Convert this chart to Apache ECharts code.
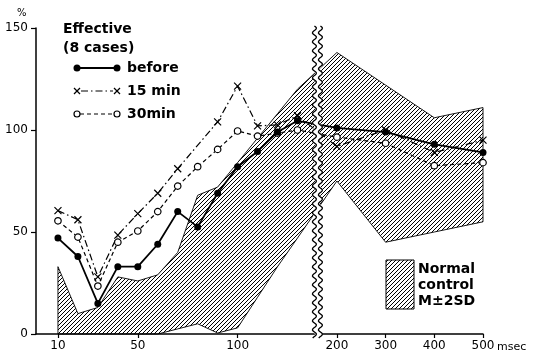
<!DOCTYPE html>
<html>
<head>
<meta charset="utf-8">
<script src="https://cdn.jsdelivr.net/npm/echarts@6/dist/echarts.min.js"></script>
<style>
  html, body { margin: 0; padding: 0; background: #fff; }
  #chart { width: 533px; height: 355px; }
</style>
</head>
<body>
<div id="chart"></div>
<script>
// stimulus interval (msec)
const intervals = [10, 20, 30, 40, 50, 60, 70, 80, 90, 100, 110, 120, 130, 200, 300, 400, 500];
// recovery (%) - effective group, 8 cases
const before = [47, 38, 15, 33, 33, 44, 60, 52.5, 69, 82, 89.5, 99, 104.5, 101, 99, 93, 89];
const min15 = [60.5, 56, 28, 48.5, 59, 69, 81, null, 104, 121.5, 102, 102.5, 107, 92, 100, 89, 95];
const min30 = [55.5, 47.5, 23.5, 45, 50.5, 60, 72.5, 82, 90.5, 99.5, 97, 98.5, 100, 96.5, 93.5, 82.5, 84];
// normal control M±2SD band
const bandX = [10, 20, 30, 40, 50, 60, 70, 80, 90, 100, 110, 120, 130, 200, 300, 400, 500];
const bandUpper = [33, 10, 13, 28, 26, 29, 40, 68, 72, 84, 96, 108, 120, 138, 122, 106, 111];
const bandLower = [0, 0, 0, 0, 0, 0, 2.5, 5, 0.5, 3, 18, 33, 47, 75, 45, 50, 55];

const xTicks = [10, 50, 100, 200, 300, 400, 500];
const yTicks = [0, 50, 100, 150];

// broken x axis: 0-140 linear, then 160-500 compressed
const BREAK_AT = 140, RIGHT_FROM = 160, RIGHT_K = 0.244;
function pos(v) {
  return v <= BREAK_AT ? v : BREAK_AT + (v - RIGHT_FROM) * RIGHT_K;
}

// hatch pattern
function makeHatch() {
  const c = document.createElement('canvas');
  c.width = 8; c.height = 8;
  const g = c.getContext('2d');
  g.strokeStyle = '#000';
  g.lineWidth = 1.0;
  for (let k = 0; k <= 16; k += 4) {
    g.beginPath();
    g.moveTo(-1, k + 1);
    g.lineTo(k + 1, -1);
    g.stroke();
  }
  return { image: c, repeat: 'repeat' };
}
const hatch = makeHatch();

const FONT = 'DejaVu Sans';

function toSeries(ys) {
  const out = [];
  ys.forEach((y, i) => { if (y != null) out.push([pos(intervals[i]), y]); });
  return out;
}

const chart = echarts.init(document.getElementById('chart'), null, { renderer: 'canvas' });

const option = {
  animation: false,
  grid: { left: 36, top: 28, right: 50, bottom: 21 },
  xAxis: {
    type: 'value',
    min: -1,
    max: pos(500),
    axisLine: { onZero: false, lineStyle: { color: '#000', width: 1.5 } },
    axisTick: { customValues: xTicks.map(pos), length: 4, lineStyle: { color: '#000', width: 1.2 } },
    axisLabel: {
      customValues: xTicks.map(pos),
      margin: 6,
      color: '#000',
      fontFamily: FONT,
      fontSize: 12,
      formatter: (val) => {
        let best = xTicks[0];
        xTicks.forEach(t => { if (Math.abs(pos(t) - val) < Math.abs(pos(best) - val)) best = t; });
        return String(best);
      }
    },
    splitLine: { show: false }
  },
  yAxis: {
    type: 'value',
    min: 0,
    max: 150,
    interval: 50,
    axisLine: { show: true, onZero: false, lineStyle: { color: '#000', width: 1.5 } },
    axisTick: { show: true, length: 5, lineStyle: { color: '#000', width: 1.2 } },
    axisLabel: { margin: 8, color: '#000', fontFamily: FONT, fontSize: 12,
      customValues: yTicks },
    splitLine: { show: false }
  },
  series: [
    {
      name: 'Normal control',
      type: 'custom',
      z: 1,
      silent: true,
      data: [0],
      renderItem: (params, api) => {
        const pts = [];
        bandX.forEach((x, i) => pts.push(api.coord([pos(x), bandUpper[i]])));
        for (let i = bandX.length - 1; i >= 0; i--) pts.push(api.coord([pos(bandX[i]), bandLower[i]]));
        return {
          type: 'polygon',
          shape: { points: pts },
          style: { fill: hatch, stroke: '#000', lineWidth: 0.9 }
        };
      }
    },
    {
      name: 'before',
      type: 'line',
      z: 4,
      data: toSeries(before),
      symbol: 'circle',
      symbolSize: 7,
      itemStyle: { color: '#000' },
      lineStyle: { color: '#000', width: 1.8 },
      emphasis: { disabled: true }
    },
    {
      name: '15 min',
      type: 'line',
      z: 3,
      data: toSeries(min15),
      symbol: 'path://M0 0L10 10M10 0L0 10',
      symbolSize: 7,
      itemStyle: { color: 'transparent', borderColor: '#000', borderWidth: 1.2 },
      lineStyle: { color: '#000', width: 1.2, type: [7, 3, 1.5, 3] },
      emphasis: { disabled: true }
    },
    {
      name: '30min',
      type: 'line',
      z: 3,
      data: toSeries(min30),
      symbol: 'circle',
      symbolSize: 6.5,
      itemStyle: { color: '#fff', borderColor: '#000', borderWidth: 1.2 },
      lineStyle: { color: '#000', width: 1.2, type: [4, 3] },
      emphasis: { disabled: true }
    }
  ]
};
chart.setOption(option);

// axis break, legends and unit labels
const bx = chart.convertToPixel({ xAxisIndex: 0 }, BREAK_AT);
const yTop = 26, yBot = 338;
function wave(dx) {
  const pts = [];
  for (let y = yTop; y <= yBot; y += 1) {
    pts.push([bx + dx + 2 * Math.sin((y - yTop) * 2 * Math.PI / 9), y]);
  }
  return pts;
}

const legendText = { fontFamily: FONT, fontSize: 14, fontWeight: 'bold', fill: '#000', verticalAlign: 'middle' };
const lx1 = 77, lx2 = 117;
function xMark(cx, cy) {
  return [
    { type: 'line', shape: { x1: cx - 3, y1: cy - 3, x2: cx + 3, y2: cy + 3 }, style: { stroke: '#000', lineWidth: 1.2 } },
    { type: 'line', shape: { x1: cx - 3, y1: cy + 3, x2: cx + 3, y2: cy - 3 }, style: { stroke: '#000', lineWidth: 1.2 } }
  ];
}

chart.setOption({
  graphic: [
    { type: 'polyline', z: 100, shape: { points: wave(0) }, style: { stroke: '#fff', lineWidth: 6, fill: null } },
    { type: 'polyline', z: 101, shape: { points: wave(-3) }, style: { stroke: '#000', lineWidth: 1.3, fill: null } },
    { type: 'polyline', z: 101, shape: { points: wave(3) }, style: { stroke: '#000', lineWidth: 1.3, fill: null } },

    { type: 'text', left: 17, top: 8, style: { text: '%', fontFamily: FONT, fontSize: 10, fill: '#000' } },
    { type: 'text', x: 497, y: 347, style: { text: 'msec', fontFamily: FONT, fontSize: 11, fill: '#000', verticalAlign: 'middle' } },

    { type: 'text', x: 63, y: 29, style: Object.assign({ text: 'Effective' }, legendText) },
    { type: 'text', x: 63, y: 48, style: Object.assign({ text: '(8 cases)' }, legendText) },

    { type: 'line', shape: { x1: lx1, y1: 68, x2: lx2, y2: 68 }, style: { stroke: '#000', lineWidth: 1.8 } },
    { type: 'circle', shape: { cx: lx1, cy: 68, r: 3.5 }, style: { fill: '#000' } },
    { type: 'circle', shape: { cx: lx2, cy: 68, r: 3.5 }, style: { fill: '#000' } },
    { type: 'text', x: 127, y: 68, style: Object.assign({ text: 'before' }, legendText) },

    { type: 'line', shape: { x1: lx1 + 4, y1: 91, x2: lx2 - 4, y2: 91 }, style: { stroke: '#000', lineWidth: 1.2, lineDash: [7, 3, 1.5, 3] } },
    ...xMark(lx1, 91),
    ...xMark(lx2, 91),
    { type: 'text', x: 127, y: 91, style: Object.assign({ text: '15 min' }, legendText) },

    { type: 'line', shape: { x1: lx1 + 3, y1: 114, x2: lx2 - 3, y2: 114 }, style: { stroke: '#000', lineWidth: 1.2, lineDash: [4, 3] } },
    { type: 'circle', shape: { cx: lx1, cy: 114, r: 3 }, style: { fill: '#fff', stroke: '#000', lineWidth: 1.2 } },
    { type: 'circle', shape: { cx: lx2, cy: 114, r: 3 }, style: { fill: '#fff', stroke: '#000', lineWidth: 1.2 } },
    { type: 'text', x: 127, y: 114, style: Object.assign({ text: '30min' }, legendText) },

    { type: 'rect', shape: { x: 386, y: 260, width: 28, height: 49 }, style: { fill: hatch, stroke: '#000', lineWidth: 1 } },
    { type: 'text', x: 418, y: 269, style: Object.assign({ text: 'Normal' }, legendText) },
    { type: 'text', x: 418, y: 285, style: Object.assign({ text: 'control' }, legendText) },
    { type: 'text', x: 418, y: 301, style: Object.assign({ text: 'M±2SD' }, legendText) }
  ]
});
</script>
</body>
</html>
